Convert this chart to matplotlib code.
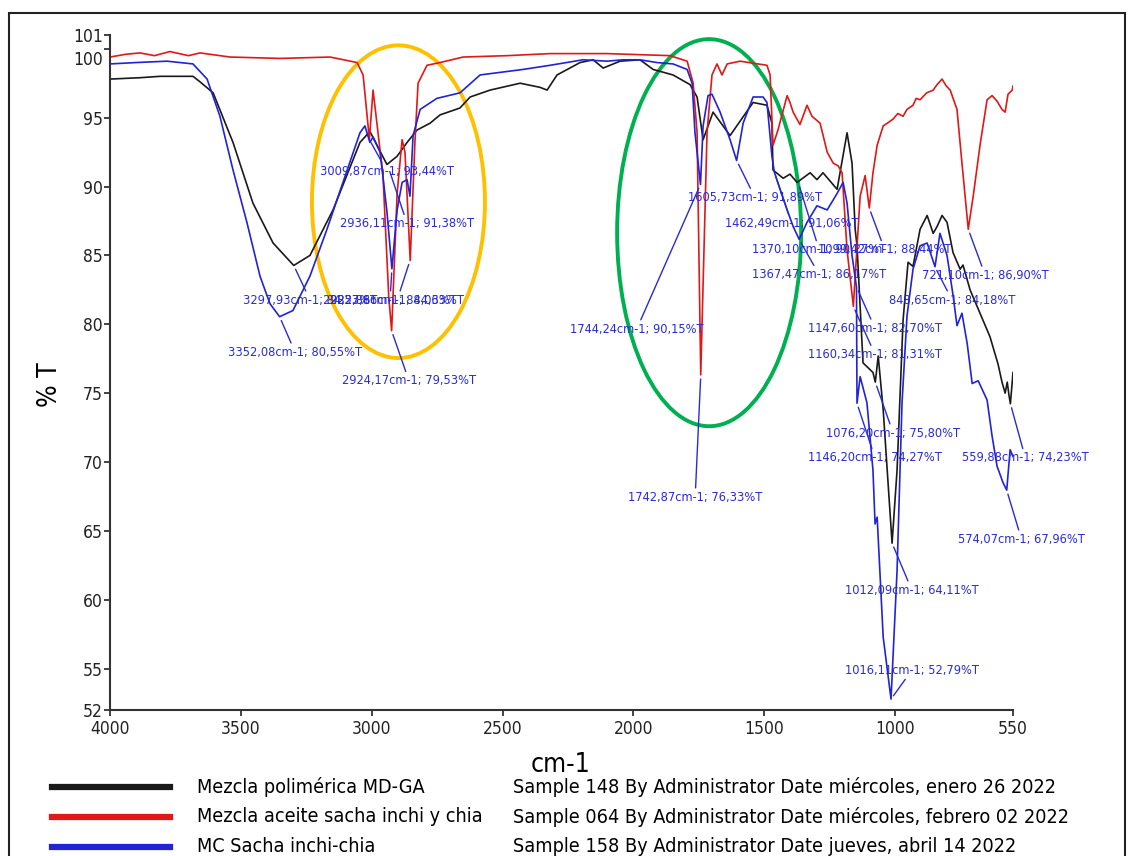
import matplotlib
matplotlib.use('Agg')
import matplotlib.pyplot as plt
from matplotlib import font_manager
from matplotlib.patches import Ellipse, Rectangle
from matplotlib.lines import Line2D

#--------------ДАНІ-----------------

# Mezcla polimérica MD-GA (чорна)
black_wn = [4000, 3885, 3809, 3683, 3656, 3606, 3530, 3454, 3377, 3298,
            3236, 3148, 3045, 3007, 2980, 2942, 2903, 2865, 2827, 2777,
            2739, 2663, 2624, 2548, 2433, 2357, 2330, 2292, 2204, 2154,
            2116, 2051, 1975, 1925, 1849, 1784, 1757, 1734, 1696, 1631,
            1543, 1490, 1471, 1467, 1428, 1402, 1375, 1325, 1299, 1276,
            1222, 1184, 1165, 1153, 1146, 1123, 1085, 1076, 1065, 1046,
            1012, 993, 970, 951, 932, 905, 878, 855, 840, 821,
            802, 779, 752, 741, 714, 676, 638, 607, 592, 580,
            572, 565, 560, 553, 550]
black_t = [97.8, 97.9, 98.0, 98.0, 97.6, 96.8, 93.2, 88.8, 85.9, 84.27,
           85.0, 88.3, 93.2, 94.0, 93.0, 91.6, 92.2, 93.2, 94.1, 94.6,
           95.2, 95.7, 96.5, 97.0, 97.5, 97.2, 97.0, 98.1, 99.0, 99.2,
           98.6, 99.1, 99.2, 98.5, 98.1, 97.4, 96.5, 93.4, 95.4, 93.7,
           96.1, 95.9, 94.6, 91.2, 90.6, 90.9, 90.3, 91.0, 90.5, 91.0,
           89.8, 93.9, 91.7, 86.9, 85.7, 77.2, 76.5, 75.8, 77.7, 73.8,
           64.11, 69.4, 80.3, 84.5, 84.2, 86.9, 87.9, 86.6, 87.1, 87.9,
           87.4, 85.2, 84.0, 84.3, 82.5, 80.8, 79.1, 77.1, 75.8, 75.0,
           75.8, 74.8, 74.23, 75.8, 76.5]

# Mezcla aceite sacha inchi y chia (червона)
red_wn = [4000, 3940, 3885, 3830, 3771, 3700, 3656, 3541, 3350, 3159,
          3056, 3033, 3009, 2995, 2957, 2935, 2924, 2903, 2884, 2873,
          2853, 2835, 2823, 2789, 2739, 2651, 2483, 2319, 2101, 1860,
          1795, 1772, 1757, 1743, 1719, 1700, 1681, 1662, 1642, 1593,
          1490, 1478, 1467, 1448, 1413, 1402, 1390, 1364, 1337, 1318,
          1287, 1260, 1237, 1218, 1203, 1184, 1160, 1134, 1115, 1099,
          1085, 1069, 1046, 1030, 1008, 990, 970, 955, 932, 920,
          905, 880, 855, 840, 821, 805, 790,
          764, 745, 721, 702, 676, 649, 630, 611, 592, 580,
          569, 553, 550]
red_t = [99.4, 99.6, 99.7, 99.5, 99.8, 99.5, 99.7, 99.4, 99.3, 99.4,
         99.0, 98.1, 93.44, 97.0, 90.8, 82.0, 79.53, 89.5, 93.4, 92.5,
         84.63, 93.2, 97.5, 98.8, 99.0, 99.4, 99.5, 99.65, 99.65, 99.5,
         99.1, 97.5, 93.9, 76.33, 93.9, 98.1, 98.9, 98.1, 98.9, 99.1,
         98.8, 98.1, 93.0, 94.1, 96.6, 96.1, 95.4, 94.5, 95.9, 95.1,
         94.6, 92.5, 91.7, 91.5, 91.0, 85.4, 81.31, 89.3, 90.8, 88.44,
         91.0, 93.0, 94.4, 94.6, 94.9, 95.3, 95.1, 95.6, 95.9, 96.4,
         96.3, 96.8, 97.0, 97.4, 97.8, 97.3, 97.0,
         95.6, 91.7, 86.90, 89.3, 93.0, 96.3, 96.6, 96.2, 95.6, 95.4,
         96.7, 97.0, 97.3]

# MC Sacha inchi-chia (синя)
blue_wn = [4000, 3900, 3782, 3683, 3629, 3580, 3530, 3477, 3427, 3389,
           3352, 3301, 3236, 3171, 3110, 3045, 3026, 3007, 2995, 2968,
           2942, 2923, 2903, 2884, 2865, 2854, 2842, 2815, 2751, 2663,
           2586, 2422, 2319, 2193, 2101, 2040, 1975, 1910, 1849, 1795,
           1776, 1765, 1744, 1734, 1715, 1700, 1669, 1631, 1606, 1581,
           1543, 1505, 1490, 1471, 1462, 1440, 1413, 1390, 1367, 1337,
           1299, 1260, 1222, 1199, 1184, 1165, 1148, 1146, 1134, 1108,
           1085, 1077, 1069, 1046, 1016, 993, 974, 955, 932, 905,
           878, 848, 829, 802, 779, 764, 745, 725, 706, 683,
           649, 630, 611, 588, 574, 561, 550]
blue_t = [98.9, 99.0, 99.1, 98.9, 97.8, 95.1, 91.2, 87.4, 83.5, 81.5,
          80.55, 81.0, 83.5, 86.9, 90.3, 93.9, 94.4, 93.2, 93.6, 92.5,
          88.2, 84.03, 88.3, 90.3, 90.5, 89.3, 93.7, 95.6, 96.4, 96.8,
          98.1, 98.5, 98.8, 99.2, 99.1, 99.2, 99.2, 99.0, 98.9, 98.5,
          97.5, 93.9, 90.15, 94.4, 96.6, 96.7, 95.4, 93.4, 91.89, 94.6,
          96.5, 96.5, 96.1, 92.2, 91.06, 89.8, 88.3, 87.1, 86.17, 87.4,
          88.6, 88.3, 89.5, 90.3, 88.8, 85.0, 82.70, 74.27, 76.2, 74.3,
          69.4, 65.5, 66.0, 57.3, 52.79, 62.1, 74.3, 80.6, 84.0, 85.7,
          85.9, 84.18, 86.6, 85.0, 82.1, 79.9, 80.8, 78.6, 75.7, 75.9,
          74.5, 71.9, 69.7, 68.5, 67.96, 70.9, 70.4]

# підписи піків: текст, пік (cm-1, %T), де стоїть текст (cm-1, %T)
peak_labels = ['3009,87cm-1; 93,44%T', '2936,11cm-1; 91,38%T', '3297,93cm-1; 84,27%T',
               '2922,86cm-1; 84,03%T', '2853,86cm-1; 84,63%T', '3352,08cm-1; 80,55%T',
               '2924,17cm-1; 79,53%T', '1744,24cm-1; 90,15%T', '1742,87cm-1; 76,33%T',
               '1605,73cm-1; 91,89%T', '1462,49cm-1; 91,06%T', '1370,10cm-1; 90,27%T',
               '1099,42cm-1; 88,44%T', '1367,47cm-1; 86,17%T', '721,10cm-1; 86,90%T',
               '848,65cm-1; 84,18%T', '1147,60cm-1; 82,70%T', '1160,34cm-1; 81,31%T',
               '1076,20cm-1; 75,80%T', '1146,20cm-1; 74,27%T', '559,88cm-1; 74,23%T',
               '574,07cm-1; 67,96%T', '1012,09cm-1; 64,11%T', '1016,11cm-1; 52,79%T']
peak_wn = [3009.87, 2936.11, 3297.93, 2922.86, 2853.86, 3352.08, 2924.17, 1744.24,
           1742.87, 1605.73, 1462.49, 1370.10, 1099.42, 1367.47, 721.10, 848.65,
           1147.60, 1160.34, 1076.20, 1146.20, 559.88, 574.07, 1012.09, 1016.11]
peak_t = [93.44, 91.38, 84.27, 84.03, 84.63, 80.55, 79.53, 90.15, 76.33, 91.89,
          91.06, 90.27, 88.44, 86.17, 86.90, 84.18, 82.70, 81.31, 75.80, 74.27,
          74.23, 67.96, 64.11, 52.79]
label_wn = [3198, 3121, 3492, 3186, 3159, 3549, 3114, 2243, 2021, 1792, 1650, 1547,
            1295, 1547, 898, 1024, 1333, 1333, 1264, 1333, 745, 760, 1192, 1192]
label_t = [91.1, 87.3, 81.75, 81.75, 81.75, 77.97, 75.9, 79.65, 67.45, 89.2, 87.3,
           85.4, 85.4, 83.6, 83.55, 81.75, 79.7, 77.8, 72.1, 70.3, 70.3, 64.4, 60.7, 54.9]

# легенда
legend_names = ['Mezcla polimérica MD-GA', 'Mezcla aceite sacha inchi y chia', 'MC Sacha inchi-chia']
legend_info = ['Sample 148 By Administrator Date miércoles, enero 26 2022',
               'Sample 064 By Administrator Date miércoles, febrero 02 2022',
               'Sample 158 By Administrator Date jueves, abril 14 2022']
colors = ['#1a1a1a', '#e01818', '#2222d8']

x_ticks = [4000, 3500, 3000, 2500, 2000, 1500, 1000, 550]
y_ticks = [52, 55, 60, 65, 70, 75, 80, 85, 90, 95, 101]

#--------------ШРИФТ-----------------
names = {f.name for f in font_manager.fontManager.ttflist}
if 'Liberation Sans Narrow' in names:
    plt.rcParams['font.family'] = ['Liberation Sans Narrow', 'DejaVu Sans']
else:
    plt.rcParams['font.family'] = ['DejaVu Sans']
    plt.rcParams['font.stretch'] = 'condensed'

#--------------ГРАФІК-----------------
W, H = 1132, 856
fig = plt.figure(figsize=(W / 100, H / 100), dpi=100)
ax = fig.add_axes([110 / W, (H - 710) / H, (1013 - 110) / W, (710 - 35) / H])

ax.plot(black_wn, black_t, color=colors[0], lw=1.2)
ax.plot(red_wn, red_t, color=colors[1], lw=1.2)
ax.plot(blue_wn, blue_t, color=colors[2], lw=1.2)

ax.set_xlim(4000, 550)
ax.set_ylim(52, 101)
ax.set_xticks(x_ticks)
ax.set_yticks(y_ticks + [100])
ax.set_yticklabels([str(v) for v in y_ticks] + [''])
for s in ['top', 'right']:
    ax.spines[s].set_visible(False)
for s in ['left', 'bottom']:
    ax.spines[s].set_linewidth(1.5)
    ax.spines[s].set_color('#333333')
ax.tick_params(direction='out', length=4, width=1.2, labelsize=12.5, colors='#222222')
ax.tick_params(axis='y', pad=1)
# мітка 100 зсунута донизу, як в оригіналі
ax.annotate('100', xy=(0, 100), xycoords=('axes fraction', 'data'), xytext=(-5, -8),
            textcoords='offset points', ha='right', va='center', fontsize=12.5, color='#222222')

# підписи піків
for i in range(len(peak_labels)):
    ax.annotate(peak_labels[i], xy=(peak_wn[i], peak_t[i]), xytext=(label_wn[i], label_t[i]),
                ha='left', va='center', fontsize=9.2, color='#2a2ad8',
                arrowprops=dict(arrowstyle='-', color='#2a2ad8', lw=1, shrinkA=0, shrinkB=3),
                annotation_clip=False)

# овали
ax.add_patch(Ellipse((2898, 88.9), 661, 22.7, fill=False, ec='#FFC000', lw=2.8, clip_on=False))
ax.add_patch(Ellipse((1711, 86.65), 703, 28.1, fill=False, ec='#00B050', lw=2.8, clip_on=False))

fig.text(50 / W, 1 - 385 / H, '% T', rotation=90, ha='center', va='center', fontsize=19)
fig.text(560 / W, 1 - 765 / H, 'cm-1', ha='center', va='center', fontsize=19)

# легенда внизу
for i in range(3):
    y = 1 - (787 + 30 * i) / H
    fig.add_artist(Line2D([52 / W, 170 / W], [y, y], color=colors[i], lw=4.5))
    fig.text(197 / W, y, legend_names[i], va='center', fontsize=14.2)
    fig.text(513 / W, y, legend_info[i], va='center', fontsize=14.2)

# рамка
fig.add_artist(Rectangle((9 / W, -0.05), (1125 - 9) / W, 1.05 - 13 / H, fill=False,
                         lw=1.5, ec='#222222', transform=fig.transFigure))

fig.savefig('out.png', dpi=100)
